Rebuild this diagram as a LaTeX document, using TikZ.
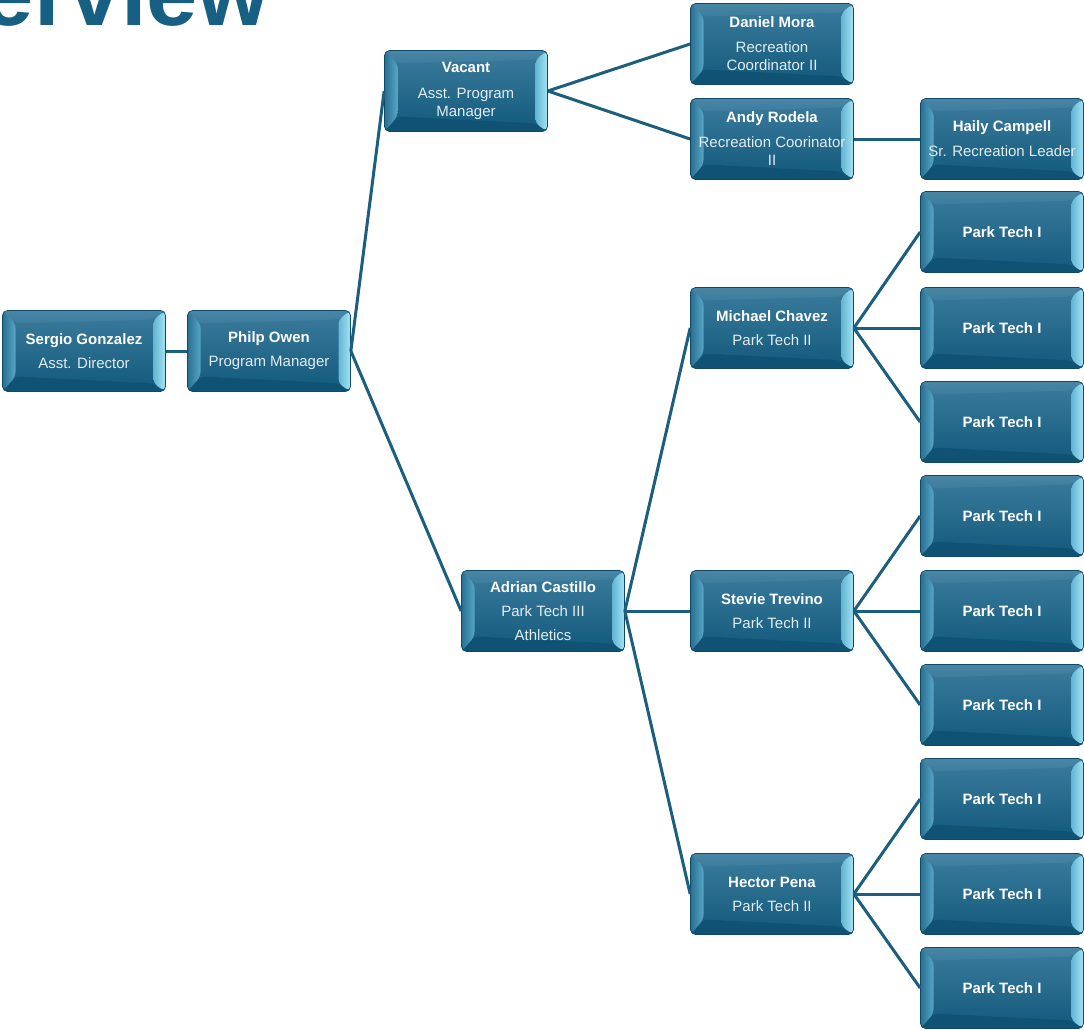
\documentclass[tikz,border=0pt]{standalone}
\usepackage{fontspec}
\setmainfont{Liberation Sans}
\usetikzlibrary{calc}
\definecolor{titleblue}{HTML}{175F83}
\definecolor{boxtop}{HTML}{3C7C9D}
\definecolor{boxbot}{HTML}{12597B}
\definecolor{boxedge}{HTML}{0F4A68}
\definecolor{bevlo}{HTML}{2A6F92}
\definecolor{bevhi}{HTML}{56A6C6}
\definecolor{bevrt}{HTML}{64B6D4}
\definecolor{bevcyan}{HTML}{A4E3F4}
\definecolor{bevtop}{HTML}{4A86A5}
\definecolor{bevbot}{HTML}{0F5273}
\definecolor{linkblue}{HTML}{1B5E7E}
\definecolor{roletext}{HTML}{E2ECF1}
\tikzset{
  orgbox/.style={rectangle, rounded corners=5pt, minimum width=163pt, minimum height=81pt,
    inner sep=0pt, draw=boxedge, line width=0.7pt, top color=boxtop, bottom color=boxbot,
    text=white, align=center, font=\fontsize{15}{18}\selectfont,
    path picture={
      \coordinate (pnw) at (path picture bounding box.north west);
      \coordinate (pne) at (path picture bounding box.north east);
      \coordinate (psw) at (path picture bounding box.south west);
      \coordinate (pse) at (path picture bounding box.south east);
      \shade[top color=bevtop, bottom color=boxtop] (pnw) -- (pne) -- ($(pne)+(-12pt,-9pt)$) -- ($(pnw)+(13pt,-13pt)$) -- cycle; % top bevel
      \fill[bevbot] (psw) -- (pse) -- ($(pse)+(-12pt,8pt)$) -- ($(psw)+(13pt,15pt)$) -- cycle; % bottom bevel
      \shade[left color=bevlo, right color=bevhi] (pnw) -- ($(pnw)+(13pt,-13pt)$) -- ($(psw)+(13pt,15pt)$) -- (psw) -- cycle; % left bevel
      \shade[left color=bevrt, right color=bevcyan] (pne) -- ($(pne)+(-12pt,-9pt)$) -- ($(pse)+(-12pt,8pt)$) -- (pse) -- cycle; % right bevel
    }},
  link/.style={draw=linkblue, line width=3pt}
}
\newcommand{\role}[1]{{\color{roletext}#1}}
\begin{document}
\begin{tikzpicture}[x=1pt, y=-1pt]
\useasboundingbox (0,0) rectangle (1084,1029);
\node[anchor=base west, inner sep=0pt, text=titleblue, font=\fontsize{92}{92}\selectfont\bfseries] (title) at (-140,25) {Overview}; % heading, cut at the top
% first levels
\node[orgbox] (sergio) at (84,351) {\textbf{Sergio Gonzalez}\\[6pt]\role{Asst. Director}};
\node[orgbox] (philp) at (269,351) {\textbf{Philp Owen}\\[6pt]\role{Program Manager}};
\node[orgbox] (vacant) at (466,91) {\textbf{Vacant}\\[8pt]\role{Asst. Program}\\\role{Manager}};
\node[orgbox] (adrian) at (543,611) {\textbf{Adrian Castillo}\\[6pt]\role{Park Tech III}\\[6pt]\role{Athletics}};
% recreation
\node[orgbox] (daniel) at (772,44) {\textbf{Daniel Mora}\\[7pt]\role{Recreation}\\\role{Coordinator II}};
\node[orgbox] (andy) at (772,139) {\textbf{Andy Rodela}\\[7pt]\role{Recreation Coorinator}\\\role{II}};
\node[orgbox] (haily) at (1002,139) {\textbf{Haily Campell}\\[7pt]\role{Sr. Recreation Leader}};
% park tech II
\node[orgbox] (michael) at (772,328) {\textbf{Michael Chavez}\\[6pt]\role{Park Tech II}};
\node[orgbox] (stevie) at (772,611) {\textbf{Stevie Trevino}\\[6pt]\role{Park Tech II}};
\node[orgbox] (hector) at (772,894) {\textbf{Hector Pena}\\[6pt]\role{Park Tech II}};
% park tech I
\node[orgbox] (pt1) at (1002,232) {\textbf{Park Tech I}};
\node[orgbox] (pt2) at (1002,328) {\textbf{Park Tech I}};
\node[orgbox] (pt3) at (1002,422) {\textbf{Park Tech I}};
\node[orgbox] (pt4) at (1002,516) {\textbf{Park Tech I}};
\node[orgbox] (pt5) at (1002,611) {\textbf{Park Tech I}};
\node[orgbox] (pt6) at (1002,705) {\textbf{Park Tech I}};
\node[orgbox] (pt7) at (1002,799) {\textbf{Park Tech I}};
\node[orgbox] (pt8) at (1002,894) {\textbf{Park Tech I}};
\node[orgbox] (pt9) at (1002,988) {\textbf{Park Tech I}};
% connectors
\draw[link] (sergio.east) -- (philp.west);
\draw[link] (philp.east) -- (vacant.west);
\draw[link] (philp.east) -- (adrian.west);
\draw[link] (vacant.east) -- (daniel.west);
\draw[link] (vacant.east) -- (andy.west);
\draw[link] (andy.east) -- (haily.west);
\draw[link] (adrian.east) -- (michael.west);
\draw[link] (adrian.east) -- (stevie.west);
\draw[link] (adrian.east) -- (hector.west);
\draw[link] (michael.east) -- (pt1.west);
\draw[link] (michael.east) -- (pt2.west);
\draw[link] (michael.east) -- (pt3.west);
\draw[link] (stevie.east) -- (pt4.west);
\draw[link] (stevie.east) -- (pt5.west);
\draw[link] (stevie.east) -- (pt6.west);
\draw[link] (hector.east) -- (pt7.west);
\draw[link] (hector.east) -- (pt8.west);
\draw[link] (hector.east) -- (pt9.west);
\end{tikzpicture}
\end{document}
